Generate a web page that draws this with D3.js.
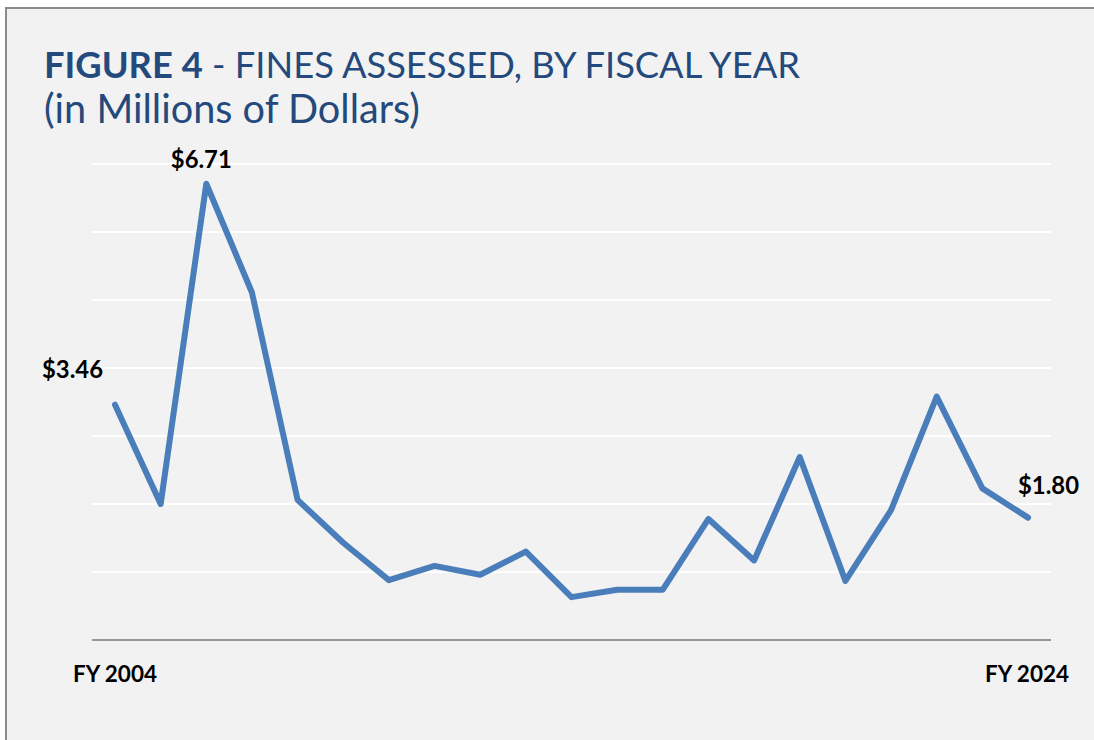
<!DOCTYPE html>
<html><head><meta charset="utf-8">
<script src="https://cdn.jsdelivr.net/npm/d3@7"></script>
<style>
html,body{margin:0;padding:0;background:#fff;}
svg{display:block;}
text{font-family:Lato,"Open Sans",sans-serif;}
</style></head>
<body>
<svg id="c" width="1094" height="740"></svg>
<script>
const years = d3.range(2004, 2025);
const fines = [3.46, 2.00, 6.71, 5.11, 2.06, 1.43, 0.88, 1.09, 0.96, 1.30, 0.63, 0.74, 0.74, 1.78, 1.17, 2.69, 0.87, 1.91, 3.58, 2.23, 1.80];
const yTicks = [0, 1, 2, 3, 4, 5, 6, 7];
const xLabels = [{year: 2004, text: "FY 2004"}, {year: 2024, text: "FY 2024"}];
const valueLabels = [2004, 2006, 2024];

const data = years.map((y, i) => ({year: y, value: fines[i]}));
const svg = d3.select("#c");

// frame
svg.append("rect").attr("x", 6).attr("y", 8).attr("width", 1100).attr("height", 740)
  .attr("fill", "#f2f2f2").attr("stroke", "#8c8c8c").attr("stroke-width", 2);

const x = d3.scaleLinear().domain([2004, 2024]).range([115, 1028]);
const y = d3.scaleLinear().domain([0, 7]).range([640, 164]);
const gridX0 = 92, gridX1 = 1051;

// gridlines
svg.append("g").selectAll("line").data(yTicks.filter(t => t > 0)).join("line")
  .attr("x1", gridX0).attr("x2", gridX1)
  .attr("y1", d => y(d)).attr("y2", d => y(d))
  .attr("stroke", "#ffffff").attr("stroke-width", 2);
// baseline
svg.append("line").attr("x1", gridX0).attr("x2", gridX1)
  .attr("y1", y(0)).attr("y2", y(0))
  .attr("stroke", "#969696").attr("stroke-width", 2);

// line
svg.append("path").datum(data)
  .attr("d", d3.line().x(d => x(d.year)).y(d => y(d.value)))
  .attr("fill", "none").attr("stroke", "#4a7ebb").attr("stroke-width", 6)
  .attr("stroke-linejoin", "round").attr("stroke-linecap", "round");

function fit(t, w) {
  const fs = parseFloat(t.attr("font-size"));
  const cur = t.node().getComputedTextLength();
  t.attr("font-size", (fs * w / cur).toFixed(2));
}

// title
const t1 = svg.append("text").attr("x", 44).attr("y", 78).attr("font-size", 44).attr("fill", "#24497c");
t1.append("tspan").attr("font-weight", "bold").text("FIGURE 4");
t1.append("tspan").text(" - FINES ASSESSED, BY FISCAL YEAR");
fit(t1, 756);
const t2 = svg.append("text").attr("x", 44).attr("y", 123).attr("font-size", 44).attr("fill", "#24497c")
  .text("(in Millions of Dollars)");
fit(t2, 376);

// value labels
const lblPos = {
  2004: {dx: -12, dy: -27, anchor: "end"},
  2006: {dx: -5, dy: -16, anchor: "middle"},
  2024: {dx: -10, dy: -24, anchor: "start"}
};
valueLabels.forEach(yr => {
  const d = data.find(e => e.year === yr);
  const p = lblPos[yr];
  const t = svg.append("text")
    .attr("x", x(d.year) + p.dx).attr("y", y(d.value) + p.dy)
    .attr("text-anchor", p.anchor).attr("font-weight", "bold").attr("font-size", 22).attr("fill", "#000")
    .text("$" + d3.format(".2f")(d.value));
  fit(t, 61);
});

// x labels
xLabels.forEach((l, i) => {
  const t = svg.append("text")
    .attr("x", i === 0 ? x(l.year) - 42 : x(l.year) + 41)
    .attr("y", 682)
    .attr("text-anchor", i === 0 ? "start" : "end")
    .attr("font-weight", "bold").attr("font-size", 22).attr("fill", "#000")
    .text(l.text);
  fit(t, 84);
});
</script>
</body></html>
